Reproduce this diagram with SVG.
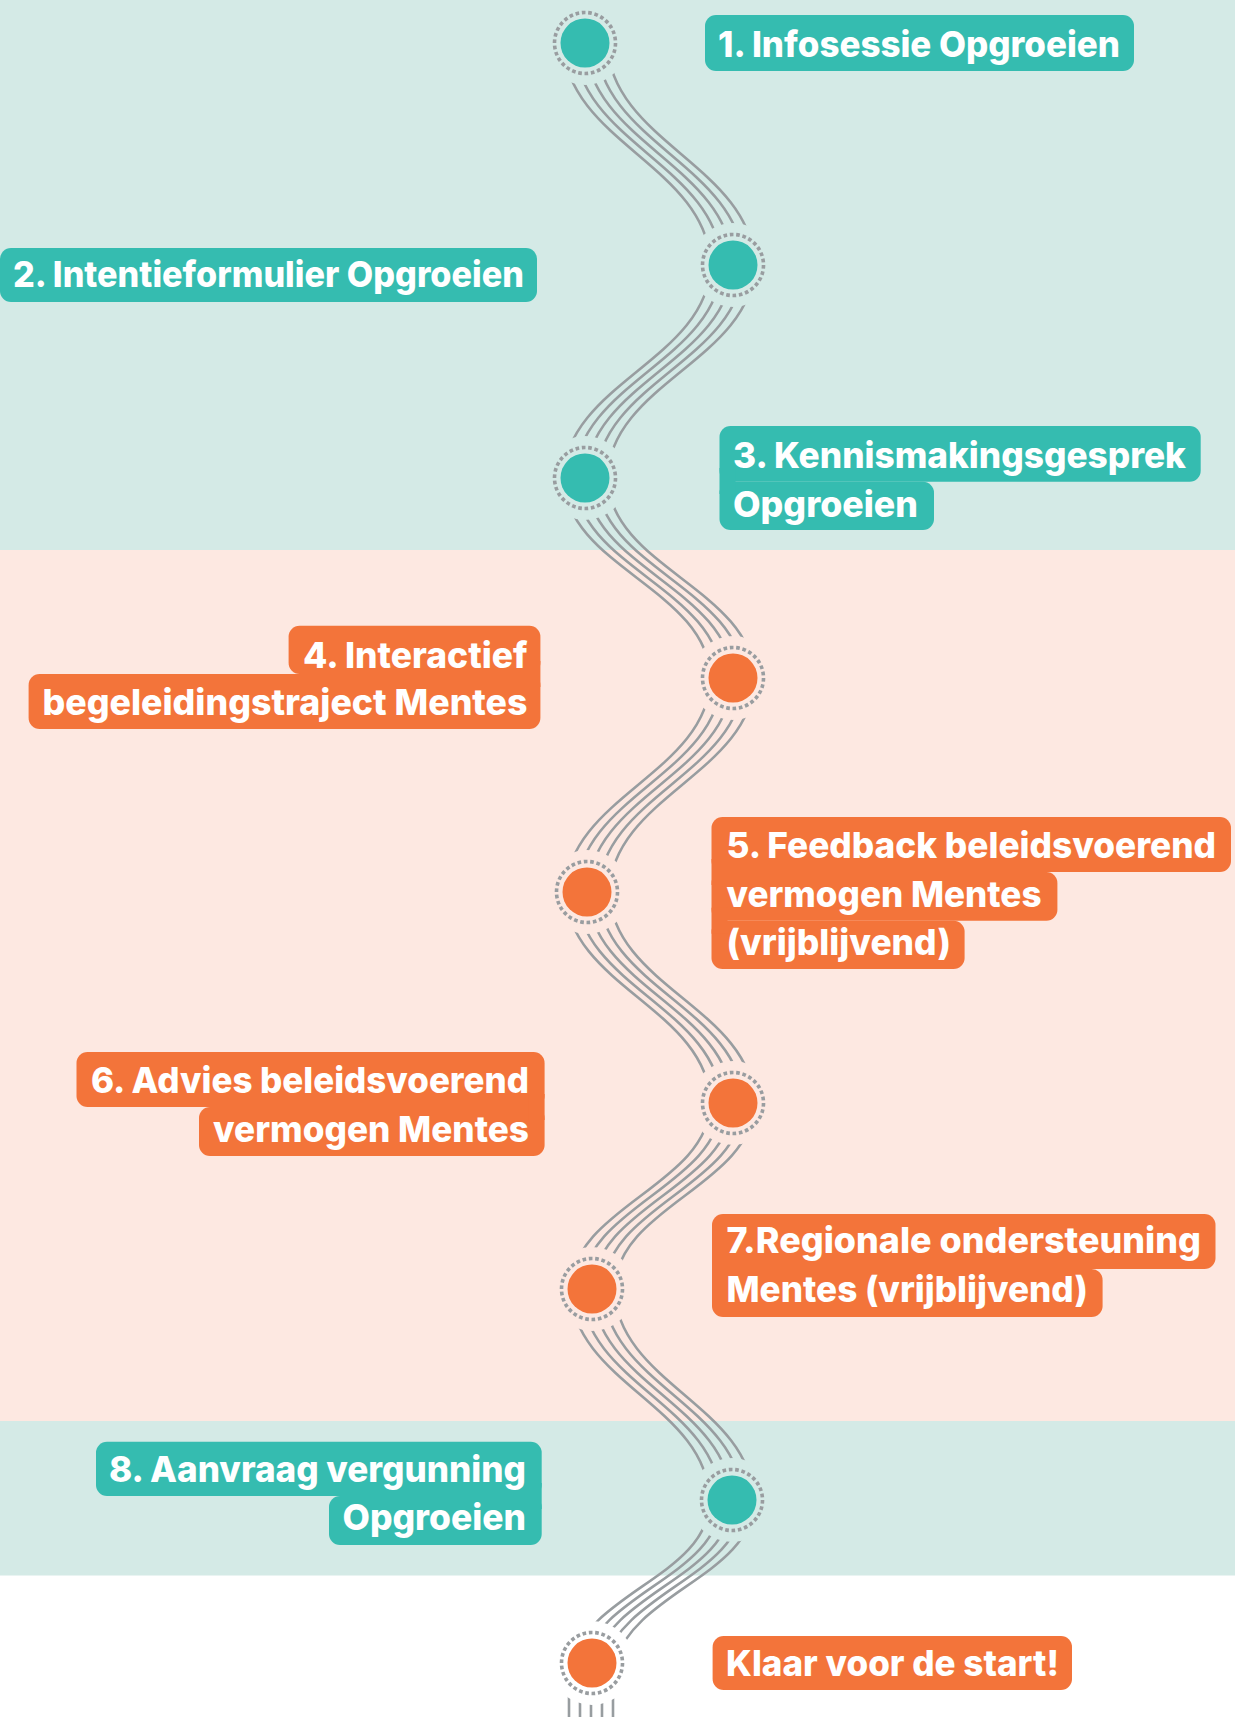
<svg xmlns="http://www.w3.org/2000/svg" xmlns:xlink="http://www.w3.org/1999/xlink" width="1235" height="1717" viewBox="0 0 1235 1717">
<style>
.lbl{fill:#ffffff;font-family:"Inter","Open Sans","Liberation Sans",sans-serif;font-weight:800;font-size:35.5px}
.end{text-anchor:end}
.teal{fill:#35bcb0}
.orange{fill:#f3743a}
.ring{fill:none;stroke:#999da0;stroke-width:3.6;stroke-dasharray:1.15 0.85}
.dot-teal{fill:#35bcb0}
.dot-orange{fill:#f3743a}
.line{fill:none;stroke:#989da0;stroke-width:2.6}
</style>
<defs>
<path id="road" d="M585,43 C589.4,142.9 728.6,165.1 733,265 C728.6,360.9 589.4,382.2 585,478 C589.4,568 728.6,588 733,678 C728.6,774.3 591.4,795.7 587,892 C591.4,987 728.6,1008 733,1103 C728.8,1186.7 596.2,1205.3 592,1289 C596.2,1384 727.8,1405 732,1500 C731,1575 615,1590 592,1663 M591,1663 L591,1740"/>
<mask id="cut" maskUnits="userSpaceOnUse" x="0" y="0" width="1235" height="1717">
<rect x="0" y="0" width="1235" height="1717" fill="#fff"/>
<circle cx="585" cy="43" r="42" fill="#000"/>
<circle cx="733" cy="265" r="42" fill="#000"/>
<circle cx="585" cy="478" r="42" fill="#000"/>
<circle cx="733" cy="678" r="42" fill="#000"/>
<circle cx="587" cy="892" r="42" fill="#000"/>
<circle cx="733" cy="1103" r="42" fill="#000"/>
<circle cx="592" cy="1289" r="42" fill="#000"/>
<circle cx="732" cy="1500" r="42" fill="#000"/>
<circle cx="592" cy="1663" r="42" fill="#000"/>
</mask>
</defs>

<g id="background">
<rect x="0" y="0" width="1235" height="1717" fill="#ffffff"/>
<rect x="0" y="0" width="1235" height="550" fill="#d4eae6"/>
<rect x="0" y="550" width="1235" height="871" fill="#fde8e1"/>
<rect x="0" y="1421" width="1235" height="154.5" fill="#d4eae6"/>
</g>

<g id="connectors" mask="url(#cut)">
<use xlink:href="#road" href="#road" class="line" x="-22"/>
<use xlink:href="#road" href="#road" class="line" x="-11"/>
<use xlink:href="#road" href="#road" class="line" x="0"/>
<use xlink:href="#road" href="#road" class="line" x="11"/>
<use xlink:href="#road" href="#road" class="line" x="22"/>
</g>

<g id="node-1">
<circle class="ring" cx="585" cy="43" r="30.5" pathLength="60"/>
<circle class="dot-teal" cx="585" cy="43" r="24.5"/>
<rect class="teal" x="705" y="15" width="429" height="56" rx="11"/>
<text class="lbl" x="718" y="57" textLength="402" lengthAdjust="spacingAndGlyphs">1. Infosessie Opgroeien</text>
</g>

<g id="node-2">
<circle class="ring" cx="733" cy="265" r="30.5" pathLength="60"/>
<circle class="dot-teal" cx="733" cy="265" r="24.5"/>
<rect class="teal" x="0" y="248" width="537" height="54" rx="11"/>
<text class="lbl" x="13" y="287" textLength="511" lengthAdjust="spacingAndGlyphs">2. Intentieformulier Opgroeien</text>
</g>

<g id="node-3">
<circle class="ring" cx="585" cy="478" r="30.5" pathLength="60"/>
<circle class="dot-teal" cx="585" cy="478" r="24.5"/>
<rect class="teal" x="719.5" y="426" width="481.2" height="55.7" rx="11"/>
<rect class="teal" x="719.5" y="481.7" width="214.5" height="48.3" rx="11"/>
<rect class="teal" x="719.5" y="468" width="16" height="26"/>
<text class="lbl" x="733" y="468" textLength="453" lengthAdjust="spacingAndGlyphs">3. Kennismakingsgesprek</text>
<text class="lbl" x="733" y="517" textLength="185" lengthAdjust="spacingAndGlyphs">Opgroeien</text>
</g>

<g id="node-4">
<circle class="ring" cx="733" cy="678" r="30.5" pathLength="60"/>
<circle class="dot-orange" cx="733" cy="678" r="24.5"/>
<rect class="orange" x="288.6" y="625.7" width="251.8" height="48.3" rx="11"/>
<rect class="orange" x="28.6" y="674" width="511.8" height="55" rx="11"/>
<rect class="orange" x="524.4" y="661" width="16" height="26"/>
<text class="lbl end" x="527.5" y="668" textLength="224.5" lengthAdjust="spacingAndGlyphs">4. Interactief</text>
<text class="lbl end" x="527.5" y="715" textLength="485" lengthAdjust="spacingAndGlyphs">begeleidingstraject Mentes</text>
</g>

<g id="node-5">
<circle class="ring" cx="587" cy="892" r="30.5" pathLength="60"/>
<circle class="dot-orange" cx="587" cy="892" r="24.5"/>
<rect class="orange" x="711.5" y="817" width="519.5" height="55" rx="11"/>
<rect class="orange" x="711.5" y="872" width="345.9" height="48.7" rx="11"/>
<rect class="orange" x="711.5" y="920.7" width="253.1" height="48.3" rx="11"/>
<rect class="orange" x="711.5" y="859" width="16" height="26"/>
<rect class="orange" x="711.5" y="907.7" width="16" height="26"/>
<text class="lbl" x="726.5" y="858" textLength="489.5" lengthAdjust="spacingAndGlyphs">5. Feedback beleidsvoerend</text>
<text class="lbl" x="726.5" y="907" textLength="315" lengthAdjust="spacingAndGlyphs">vermogen Mentes</text>
<text class="lbl" x="726.5" y="955" textLength="224.5" lengthAdjust="spacingAndGlyphs">(vrijblijvend)</text>
</g>

<g id="node-6">
<circle class="ring" cx="733" cy="1103" r="30.5" pathLength="60"/>
<circle class="dot-orange" cx="733" cy="1103" r="24.5"/>
<rect class="orange" x="76.5" y="1052" width="468.1" height="55" rx="11"/>
<rect class="orange" x="199" y="1107" width="345.6" height="49" rx="11"/>
<rect class="orange" x="528.6" y="1094" width="16" height="26"/>
<text class="lbl end" x="529" y="1093" textLength="438" lengthAdjust="spacingAndGlyphs">6. Advies beleidsvoerend</text>
<text class="lbl end" x="529" y="1142" textLength="316" lengthAdjust="spacingAndGlyphs">vermogen Mentes</text>
</g>

<g id="node-7">
<circle class="ring" cx="592" cy="1289" r="30.5" pathLength="60"/>
<circle class="dot-orange" cx="592" cy="1289" r="24.5"/>
<rect class="orange" x="712" y="1214" width="503.5" height="55" rx="11"/>
<rect class="orange" x="712" y="1269" width="390.6" height="48" rx="11"/>
<rect class="orange" x="712" y="1256" width="16" height="26"/>
<text class="lbl" x="726.5" y="1253" textLength="474.5" lengthAdjust="spacingAndGlyphs">7.Regionale ondersteuning</text>
<text class="lbl" x="726.5" y="1302" textLength="361.5" lengthAdjust="spacingAndGlyphs">Mentes (vrijblijvend)</text>
</g>

<g id="node-8">
<circle class="ring" cx="732" cy="1500" r="30.5" pathLength="60"/>
<circle class="dot-teal" cx="732" cy="1500" r="24.5"/>
<rect class="teal" x="96" y="1441.7" width="445.7" height="54.3" rx="11"/>
<rect class="teal" x="329" y="1496" width="212.7" height="49" rx="11"/>
<rect class="teal" x="525.7" y="1483" width="16" height="26"/>
<text class="lbl end" x="526" y="1482" textLength="417" lengthAdjust="spacingAndGlyphs">8. Aanvraag vergunning</text>
<text class="lbl end" x="526" y="1530" textLength="183.5" lengthAdjust="spacingAndGlyphs">Opgroeien</text>
</g>

<g id="node-9">
<circle class="ring" cx="592" cy="1663" r="30.5" pathLength="60"/>
<circle class="dot-orange" cx="592" cy="1663" r="24.5"/>
<rect class="orange" x="712.6" y="1636" width="359.4" height="54" rx="11"/>
<text class="lbl" x="726" y="1676" textLength="333" lengthAdjust="spacingAndGlyphs">Klaar voor de start!</text>
</g>
</svg>
